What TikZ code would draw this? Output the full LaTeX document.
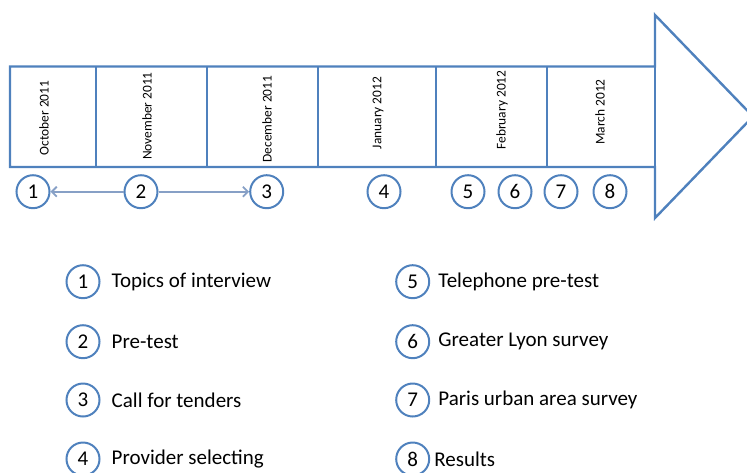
\documentclass[tikz,border=0pt]{standalone}
\usepackage{fontspec}
\setmainfont{Carlito}
\usetikzlibrary{positioning,arrows.meta}
\definecolor{ofblue}{RGB}{79,129,189}
\definecolor{linkblue}{RGB}{135,160,198}
\tikzset{
  num/.style={circle,draw=ofblue,line width=2pt,minimum size=33pt,inner sep=0pt,font=\fontsize{21}{21}\selectfont},
  month/.style={rotate=90,inner sep=0pt,font=\fontsize{13.4}{13.4}\selectfont},
  legtext/.style={inner sep=0pt,anchor=west,font=\fontsize{21}{21}\selectfont},
  link/.style={linkblue,line width=1.8pt,-{Straight Barb[length=5pt,width=10pt]}}
}
\begin{document}
\begin{tikzpicture}[x=1pt,y=-1pt]
\useasboundingbox (0,0) rectangle (747,472);
\clip (0,0) rectangle (747,472);
% timeline arrow
\draw[ofblue,line width=2.4pt,line join=miter] (10,66.5)--(655,66.5)--(655,15)--(753,116.5)--(655,218)--(655,167)--(10,167)--cycle;
\foreach \x in {96,207,318,436,547,655}
  \draw[ofblue,line width=1.3pt] (\x,66.5)--(\x,167);
% months
\node[month] (oct) at (44,118) {October 2011};
\node[month] (nov) at (147,116) {November 2011};
\node[month] (dec) at (267,119) {December 2011};
\node[month] (jan) at (378,113) {January 2012};
\node[month] (feb) at (502,110) {February 2012};
\node[month] (mar) at (600,112) {March 2012};
% steps on the timeline
\node[num] (c1) at (33,191.7) {1};
\node[num] (c2) at (141,191.7) {2};
\node[num] (c3) at (266.7,191.7) {3};
\node[num] (c4) at (384,191.7) {4};
\node[num] (c5) at (468,191.7) {5};
\node[num] (c6) at (515,191.7) {6};
\node[num] (c7) at (561,191.7) {7};
\node[num] (c8) at (610,191.7) {8};
\draw[link] (c2) -- (c1);
\draw[link] (c2) -- (c3);
% legend
\node[num] (l1) at (83,281.7) {1};
\node[num] (l2) at (83,341.7) {2};
\node[num] (l3) at (83,400) {3};
\node[num] (l4) at (83,459) {4};
\node[num] (l5) at (412.7,281.7) {5};
\node[num] (l6) at (412.7,341.7) {6};
\node[num] (l7) at (412.7,400) {7};
\node[num] (l8) at (412.7,459) {8};
\node[legtext,right=11pt of l1] (t1) {Topics of interview};
\node[legtext,right=11pt of l2] (t2) {Pre-test};
\node[legtext,right=11pt of l3] (t3) {Call for tenders};
\node[legtext,right=11pt of l4] (t4) {Provider selecting};
\node[legtext,right=8pt of l5] (t5) {Telephone pre-test};
\node[legtext,right=8pt of l6] (t6) {Greater Lyon survey};
\node[legtext,right=8pt of l7] (t7) {Paris urban area survey};
\node[legtext,right=4pt of l8] (t8) {Results};
\end{tikzpicture}
\end{document}
